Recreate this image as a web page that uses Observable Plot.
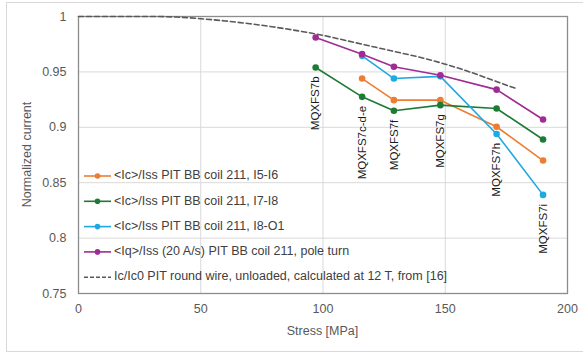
<!DOCTYPE html>
<html>
<head>
<meta charset="utf-8">
<script src="https://cdn.jsdelivr.net/npm/d3@7"></script>
<script src="https://cdn.jsdelivr.net/npm/@observablehq/plot@0.6"></script>
<style>
  html, body { margin: 0; padding: 0; background: #fff; }
  #wrap { position: relative; width: 583px; height: 356px; overflow: hidden; }
  #border { position: absolute; left: 6px; top: 2px; width: 590px; height: 350px; border: 1px solid #d9d9d9; box-sizing: border-box; }
  #chart { position: absolute; left: 0; top: 0; }
</style>
</head>
<body>
<div id="wrap"><div id="border"></div><div id="chart"></div></div>
<script>
// ---- data ----
const seriesNames = [
  "<Ic>/Iss PIT BB coil 211, I5-I6",
  "<Ic>/Iss PIT BB coil 211, I7-I8",
  "<Ic>/Iss PIT BB coil 211, I8-O1",
  "<Iq>/Iss (20 A/s) PIT BB coil 211, pole turn"
];
const seriesColors = ["#ED7D31", "#1E7B34", "#1FA9E1", "#A02B93"];
const stress = [97, 116, 129, 148, 171, 190];
const i5i6 = [null, 0.944, 0.9245, 0.9245, 0.9005, 0.870];
const i7i8 = [0.954, 0.9275, 0.915, 0.920, 0.917, 0.889];
const i8o1 = [null, 0.9645, 0.944, 0.946, 0.894, 0.839];
const pole = [0.981, 0.966, 0.9546, 0.947, 0.934, 0.907];
const magnetLabels = ["MQXFS7b", "MQXFS7c-d-e", "MQXFS7f", "MQXFS7g", "MQXFS7h", "MQXFS7i"];
const refName = "Ic/Ic0 PIT round wire, unloaded, calculated at 12 T, from [16]";
const refStress = [0, 30, 40, 50, 60, 70, 80, 90, 100, 110, 120, 130, 140, 150, 160, 170, 179];
const refCurrent = [1, 1, 0.9995, 0.998, 0.996, 0.9935, 0.9905, 0.987, 0.983, 0.978, 0.973, 0.968, 0.963, 0.957, 0.950, 0.942, 0.935];
const xTicks = [0, 50, 100, 150, 200];
const yTicks = [0.75, 0.8, 0.85, 0.9, 0.95, 1];

// ---- build tables ----
const allSeries = [i5i6, i7i8, i8o1, pole];
const rows = [];
allSeries.forEach((vals, si) => vals.forEach((v, i) => {
  if (v != null) rows.push({series: seriesNames[si], x: stress[i], y: v});
}));
const curve = refStress.map((x, i) => ({x, y: refCurrent[i]}));
const labelRows = stress.map((x, i) => ({
  x, label: magnetLabels[i],
  y: d3.min(allSeries, s => s[i] == null ? undefined : s[i])
}));

const FONT = "'Liberation Sans', Arial, sans-serif";
const plot = Plot.plot({
  width: 583, height: 356,
  marginLeft: 78, marginRight: 16, marginTop: 16, marginBottom: 63,
  style: {fontFamily: FONT, fontSize: "12.5px", color: "#595959", background: "transparent", overflow: "visible"},
  x: {domain: [0, 200], ticks: xTicks, label: null, tickSize: 0, tickPadding: 11},
  y: {domain: [0.75, 1], ticks: yTicks, label: null, tickSize: 0, tickPadding: 12,
      tickFormat: d => String(+d.toFixed(2))},
  color: {domain: seriesNames, range: seriesColors},
  marks: [
    Plot.ruleX(xTicks.slice(1, -1), {stroke: "#d9d9d9", strokeWidth: 1}),
    Plot.ruleY(yTicks.slice(1, -1), {stroke: "#d9d9d9", strokeWidth: 1}),
    Plot.frame({stroke: "#8c8c8c", strokeWidth: 1.3}),
    Plot.line(curve, {x: "x", y: "y", stroke: "#595959", strokeWidth: 1.6, strokeDasharray: "5,3", curve: "monotone-x"}),
    Plot.line(rows, {x: "x", y: "y", z: "series", stroke: "series", strokeWidth: 1.6}),
    Plot.dot(rows, {x: "x", y: "y", fill: "series", r: 3.3}),
    Plot.text(labelRows, {x: "x", y: "y", text: "label", rotate: -90, textAnchor: "end", dy: 9,
      fill: "#1a1a1a", fontSize: 11.5})
  ]
});
document.getElementById("chart").appendChild(plot);

// axis titles and legend drawn into the same svg
const svg = d3.select(plot.tagName.toLowerCase() === "svg" ? plot : plot.querySelector("svg"));
svg.append("text").attr("transform", "translate(28,154.5) rotate(-90)")
  .attr("text-anchor", "middle").attr("dominant-baseline", "middle")
  .attr("fill", "#595959").style("font", `12.5px ${FONT}`).text("Normalized current");
svg.append("text").attr("x", 322.5).attr("y", 332)
  .attr("text-anchor", "middle").attr("dominant-baseline", "middle")
  .attr("fill", "#595959").style("font", `12.5px ${FONT}`).text("Stress [MPa]");

const legendItems = seriesNames.map((n, i) => ({name: n, color: seriesColors[i], dashed: false}))
  .concat([{name: refName, color: "#595959", dashed: true}]);
const lg = svg.append("g").attr("text-anchor", "start");
legendItems.forEach((d, i) => {
  const y = 176 + i * 25.3;
  lg.append("line").attr("x1", 84).attr("x2", 111).attr("y1", y).attr("y2", y)
    .attr("stroke", d.color).attr("stroke-width", 1.6)
    .attr("stroke-dasharray", d.dashed ? "4,2" : null);
  if (!d.dashed) lg.append("circle").attr("cx", 97.5).attr("cy", y).attr("r", 2.8).attr("fill", d.color);
  lg.append("text").attr("x", 114).attr("y", y).attr("dominant-baseline", "middle")
    .attr("text-anchor", "start")
    .attr("fill", "#404040").style("font", `12.5px ${FONT}`).text(d.name);
});
</script>
</body>
</html>
